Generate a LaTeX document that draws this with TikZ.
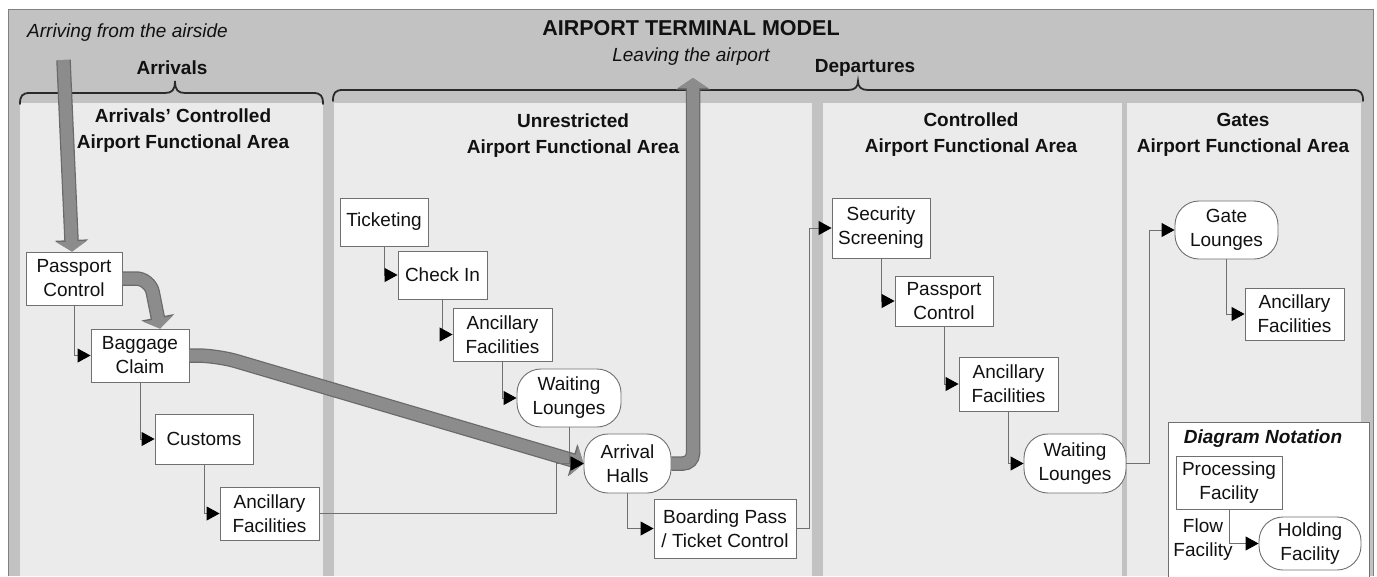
\documentclass[tikz,border=0pt]{standalone}
\usepackage{fontspec}
\setmainfont{Liberation Sans}
\usetikzlibrary{arrows.meta}
\definecolor{outergray}{HTML}{C2C2C2}
\definecolor{panelgray}{HTML}{EBEBEB}
\definecolor{linegray}{HTML}{707070}
\definecolor{thickgray}{HTML}{8C8C8C}
\definecolor{thickedge}{HTML}{6A6A6A}
\definecolor{bracecol}{HTML}{2A2A2A}
\definecolor{txtcol}{HTML}{111111}
\begin{document}
\begin{tikzpicture}[x=1pt,y=-1pt,
  every node/.style={inner sep=0pt, text=txtcol, font=\fontsize{19}{24}\selectfont},
  proc/.style={draw=linegray, fill=white, line width=0.9pt, align=center},
  hold/.style={proc, rounded corners=24pt},
  flow/.style={draw=linegray, line width=0.9pt, -{Triangle[length=13pt,width=14pt,color=black]}},
  bigflow/.style={draw=thickgray, line width=12pt, -{Triangle[length=10pt,width=30pt]},
     preaction={draw=thickedge, line width=14.5pt, -{Triangle[length=11.5pt,width=33pt]}}},
  paneltitle/.style={font=\bfseries\fontsize{19}{26}\selectfont, align=center},
  boldlbl/.style={font=\bfseries\fontsize{19}{24}\selectfont},
  itallbl/.style={font=\itshape\fontsize{19}{24}\selectfont},
  bracepath/.style={draw=bracecol, line width=1.8pt, line cap=round}
]
\useasboundingbox (0,0) rectangle (1377,576);
% background
\fill[outergray] (8,9) rectangle (1373,576);
\draw[draw=gray, line width=0.8pt] (8,576) -- (8,9) -- (1373,9) -- (1373,576);
% panels
\fill[panelgray] (20,103) rectangle (323,576);
\fill[panelgray] (334,103) rectangle (812,576);
\fill[panelgray] (823,103) rectangle (1122,576);
\fill[panelgray] (1127,103) rectangle (1361,576);
% braces
\draw[bracepath] (20,104) .. controls (20,96) and (22,93) .. (30,93) -- (165,93)
  .. controls (172,93) and (175,90) .. (175,81) .. controls (175,90) and (178,93) .. (185,93)
  -- (313,93) .. controls (321,93) and (323,96) .. (323,104);
\draw[bracepath] (333,101) .. controls (333,93) and (335,90) .. (343,90) -- (848,90)
  .. controls (855,90) and (858,87) .. (858,81) .. controls (858,87) and (861,90) .. (868,90)
  -- (1353,90) .. controls (1361,90) and (1363,93) .. (1363,101);
% top texts
\node[font=\bfseries\fontsize{21.5}{26}\selectfont] (title) at (691,28) {AIRPORT TERMINAL MODEL};
\node[itallbl, anchor=west] (arriving) at (27,33) {Arriving from the airside};
\node[boldlbl] (arrivals) at (172,68) {Arrivals};
\node[itallbl] (leaving) at (691,57) {Leaving the airport};
\node[boldlbl] (departures) at (865,68) {Departures};
% panel titles
\node[paneltitle] (t1) at (183,131) {Arrivals' Controlled\\Airport Functional Area};
\node[paneltitle] (t2) at (573,136) {Unrestricted\\Airport Functional Area};
\node[paneltitle] (t3) at (971,135) {Controlled\\Airport Functional Area};
\node[paneltitle] (t4) at (1243,135) {Gates\\Airport Functional Area};
% notation box
\node[draw=linegray, fill=white, line width=0.9pt, minimum width=201pt, minimum height=160pt, anchor=north west] (notation) at (1168,422) {};
\node[font=\bfseries\itshape\fontsize{19}{24}\selectfont] (nt) at (1263,439) {Diagram Notation};
% nodes
\node[proc, minimum width=96pt, minimum height=53pt] (pc1) at (74,278.5) {Passport\\Control};
\node[proc, minimum width=98pt, minimum height=53pt] (bc) at (140,355.5) {Baggage\\Claim};
\node[proc, minimum width=98pt, minimum height=50pt] (cu) at (204,439) {Customs};
\node[proc, minimum width=99pt, minimum height=53pt] (an1) at (269.5,513.5) {Ancillary\\Facilities};
\node[proc, minimum width=88pt, minimum height=48pt] (tk) at (384,222) {Ticketing};
\node[proc, minimum width=89pt, minimum height=48pt] (ci) at (442.5,275) {Check In};
\node[proc, minimum width=99pt, minimum height=53pt] (an2) at (502.5,334.5) {Ancillary\\Facilities};
\node[hold, minimum width=104pt, minimum height=58pt] (wl1) at (569,398) {Waiting\\Lounges};
\node[hold, minimum width=87pt, minimum height=59pt] (ah) at (627.5,463.5) {Arrival\\Halls};
\node[proc, minimum width=142pt, minimum height=59pt] (bp) at (725,528.5) {Boarding Pass\\/ Ticket Control};
\node[proc, minimum width=98pt, minimum height=60pt] (ss) at (881,228) {Security\\Screening};
\node[proc, minimum width=98pt, minimum height=50pt] (pc2) at (944,301) {Passport\\Control};
\node[proc, minimum width=99pt, minimum height=54pt] (an3) at (1008.5,384) {Ancillary\\Facilities};
\node[hold, minimum width=102pt, minimum height=59pt] (wl2) at (1075,463.5) {Waiting\\Lounges};
\node[hold, minimum width=103pt, minimum height=58pt] (gl) at (1226.5,230) {Gate\\Lounges};
\node[proc, minimum width=99pt, minimum height=52pt] (an4) at (1294.5,314) {Ancillary\\Facilities};
\node[proc, minimum width=106pt, minimum height=53pt] (pf) at (1229,482.5) {Processing\\Facility};
\node[align=center] (ff) at (1203,540) {Flow\\Facility};
\node[hold, minimum width=102pt, minimum height=53pt] (hf) at (1310,543.5) {Holding\\Facility};
% thick flows
\coordinate (air) at (63.5,60);
\coordinate (leave) at (693,78);
\draw[bigflow] (air) -- ([xshift=-2pt]pc1.north);
\draw[bigflow, rounded corners=14pt] (pc1.east) -- (150,278.5) -- ([xshift=20pt]bc.north);
\draw[bigflow, rounded corners=20pt] (bc.east) -- (217,355.5) -- (ah.west);
\draw[bigflow, rounded corners=10pt] (ah.east) -| (leave);
% thin flows
\draw[flow] (pc1.south) |- (bc.west);
\draw[flow] (bc.south) |- (cu.west);
\draw[flow] (cu.south) |- (an1.west);
\draw[flow] (an1.east) -| ([xshift=-27pt]ah.west) -- (ah.west);
\draw[flow] (wl1.south) |- (ah.west);
\draw[flow] (tk.south) |- (ci.west);
\draw[flow] (ci.south) |- (an2.west);
\draw[flow] (an2.south) |- (wl1.west);
\draw[flow] (ah.south) |- (bp.west);
\draw[flow] (bp.east) -| ([xshift=-22pt]ss.west) -- (ss.west);
\draw[flow] (ss.south) |- (pc2.west);
\draw[flow] (pc2.south) |- (an3.west);
\draw[flow] (an3.south) |- (wl2.west);
\draw[flow] (wl2.east) -| ([xshift=-25pt]gl.west) -- (gl.west);
\draw[flow] (gl.south) |- (an4.west);
\draw[flow] (pf.south) |- (hf.west);
\end{tikzpicture}
\end{document}
